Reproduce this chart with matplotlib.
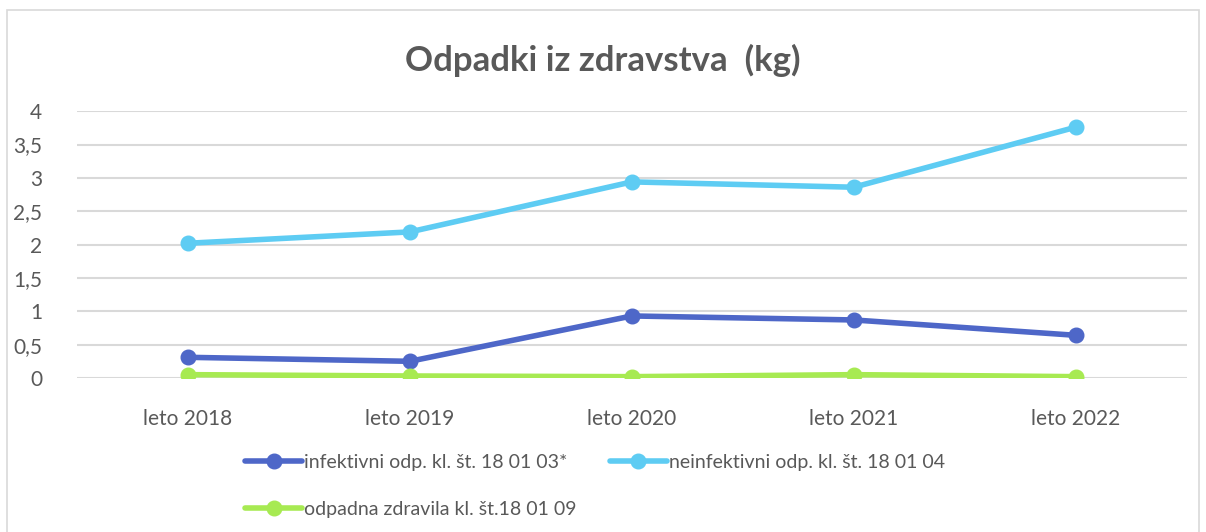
import numpy as np
import matplotlib.pyplot as plt
from matplotlib.ticker import FuncFormatter
from matplotlib.patches import Rectangle

plt.rcParams['font.family'] = ['Lato', 'DejaVu Sans']

leta = ['leto 2018', 'leto 2019', 'leto 2020', 'leto 2021', 'leto 2022']
infektivni = [0.31, 0.25, 0.93, 0.87, 0.64]
neinfektivni = [2.02, 2.19, 2.94, 2.86, 3.76]
zdravila = [0.05, 0.03, 0.02, 0.05, 0.02]

labels = ['infektivni odp. kl. št. 18 01 03*',
          'neinfektivni odp. kl. št. 18 01 04',
          'odpadna zdravila kl. št.18 01 09']
colors = ['#4E67C8', '#5ECCF3', '#A7EA52']
txt = '#595959'

fig = plt.figure(figsize=(12.06, 5.32), dpi=100)
ax = fig.add_axes([0.0638, 0.2895, 0.9202, 0.5015])

x = np.arange(len(leta))
lines = []
for vals, lab, c in zip([infektivni, neinfektivni, zdravila], labels, colors):
    ln, = ax.plot(x, vals, color=c, lw=4, marker='o', ms=10.5, label=lab,
                  solid_capstyle='round', zorder=3)
    lines.append(ln)

ax.set_xlim(-0.5, len(leta) - 0.5)
ax.set_ylim(0, 4)
ax.set_yticks(np.arange(0, 4.01, 0.5))
ax.yaxis.set_major_formatter(FuncFormatter(lambda v, p: f'{v:g}'.replace('.', ',')))
ax.set_xticks(x)
ax.set_xticklabels(leta)
ax.tick_params(axis='both', length=0, labelsize=15, colors=txt)
ax.tick_params(axis='x', pad=22)
ax.tick_params(axis='y', pad=25)
ax.grid(axis='y', color='#D9D9D9', lw=1.5)
ax.set_axisbelow(True)
for s in ax.spines.values():
    s.set_visible(False)

fig.text(0.5, 0.887, 'Odpadki iz zdravstva  (kg)', ha='center', va='center',
         fontsize=25, fontweight='bold', color=txt)

# order so columns fill as rows: [1, 3] then [2]
leg = fig.legend([lines[0], lines[2], lines[1]], [labels[0], labels[2], labels[1]],
                 ncol=2, loc='upper left', bbox_to_anchor=(0.197, 0.161),
                 frameon=False, fontsize=14, handlelength=2.9, handletextpad=0.1,
                 columnspacing=1.75, labelspacing=1.55, borderaxespad=0)
for t in leg.get_texts():
    t.set_color(txt)

fig.patches.append(Rectangle((7 / 1206, -0.1), 1192 / 1206, 1.1 - 10 / 532,
                             transform=fig.transFigure, fill=False,
                             edgecolor='#D9D9D9', lw=1.2))

fig.savefig('out.png', dpi=100)
